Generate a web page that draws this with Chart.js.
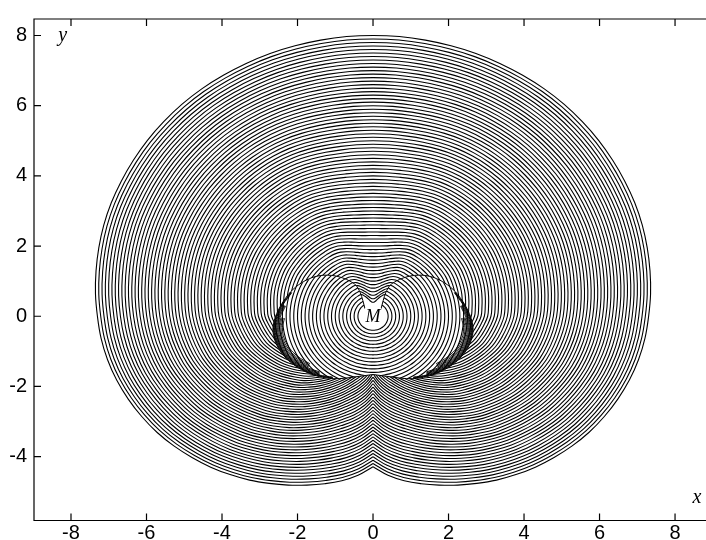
<!DOCTYPE html>
<html>
<head>
<meta charset="utf-8">
<script src="https://cdn.jsdelivr.net/npm/chart.js@4.4.0/dist/chart.umd.min.js"></script>
<style>
  html, body { margin: 0; padding: 0; background: #fff; }
  #wrap { width: 706px; height: 540px; }
</style>
</head>
<body>
<div id="wrap"><canvas id="chart" width="706" height="540"></canvas></div>
<script>
// ===============================
// DATA
// ===============================
const xTicks = [-8, -6, -4, -2, 0, 2, 4, 6, 8];
const yTicks = [-4, -2, 0, 2, 4, 6, 8];

// fronts, labelled by where they cross the axis above M
const levels = [
  0.4, 0.5, 0.6, 0.7, 0.8, 0.9, 1.0, 1.1, 1.2, 1.3, 1.4, 1.5, 1.6, 1.7, 1.8, 1.9,
  2.0, 2.1, 2.2, 2.3, 2.4, 2.5, 2.6, 2.7, 2.8, 2.9, 3.0, 3.1, 3.2, 3.3, 3.4, 3.5,
  3.6, 3.7, 3.8, 3.9, 4.0, 4.1, 4.2, 4.3, 4.4, 4.5, 4.6, 4.7, 4.8, 4.9, 5.0, 5.1,
  5.2, 5.3, 5.4, 5.5, 5.6, 5.7, 5.8, 5.9, 6.0, 6.1, 6.2, 6.3, 6.4, 6.5, 6.6, 6.7,
  6.8, 6.9, 7.0, 7.1, 7.2, 7.3, 7.4, 7.5, 7.6, 7.7, 7.8, 7.9, 8.0,
];
const innerLevel = 0.3;
const outerLevel = 8.0;

// angle from straight up, right half (left half is the mirror)
const angleDeg = [
  0, 5, 10, 15, 20, 25, 30, 35, 40, 45, 50, 55, 60, 65, 70, 75, 80, 85, 90,
  95, 100, 105, 110, 115, 120, 125, 130, 135, 140, 145, 150, 155, 160, 165, 170, 175, 180,
];
// distance from M of the outermost front
const outerR = [
  8.00, 8.00, 7.99, 7.98, 7.97, 7.95, 7.93, 7.91, 7.88, 7.84, 7.80, 7.75, 7.70,
  7.65, 7.59, 7.52, 7.45, 7.38, 7.30, 7.23, 7.14, 7.03, 6.90, 6.76, 6.61, 6.44,
  6.26, 6.08, 5.89, 5.70, 5.50, 5.31, 5.12, 4.94, 4.76, 4.55, 4.29,
];
// distance from M of the innermost front (hidden inside the heart where small)
const innerR = [
  0.30, 0.31, 0.35, 0.42, 0.50, 0.58, 0.62, 0.63, 0.64, 0.65, 0.66, 0.67, 0.68,
  0.67, 0.66, 0.65, 0.63, 0.61, 0.60, 0.50, 0.40, 0.30, 0.14, -0.03, -0.20, -0.40,
  -0.60, -0.80, -1.07, -1.33, -1.60, -1.87, -2.13, -2.40, -2.60, -2.80, -3.00,
];

// heart-shaped region round M, right half
const heartX = [
  0.21, 0.27, 0.34, 0.45, 0.61, 0.80, 1.00, 1.20, 1.40, 1.62, 1.90, 2.18, 2.42,
  2.58, 2.65, 2.62, 2.50, 2.30, 2.05, 1.75, 1.42, 1.06, 0.70, 0.35, 0.00,
];
const heartY = [
  0.20, 0.45, 0.68, 0.88, 1.00, 1.09, 1.15, 1.17, 1.16, 1.10, 0.95, 0.70, 0.35,
  0.00, -0.33, -0.62, -0.92, -1.20, -1.42, -1.60, -1.72, -1.78, -1.76, -1.71, -1.66,
];

// circles round M inside the heart
const ringR = [
  0.4, 0.5, 0.6, 0.7, 0.8, 0.9, 1.0, 1.1, 1.2, 1.3, 1.4, 1.5,
  1.6, 1.7, 1.8, 1.9, 2.0, 2.1, 2.2, 2.3, 2.4, 2.5, 2.6, 2.7,
];

// folded fronts packed along the outer rim of each lobe
const foldScale = [
  0.995, 0.988, 0.979, 0.968, 0.955, 0.94, 0.923, 0.904, 0.883, 0.86, 0.835, 0.808,
];
const foldFrom = 11;
const foldTo = 21;
const lobeCenter = { x: 1.35, y: -0.3 };

// ===============================
// CURVES
// ===============================
const toRad = (d) => (d * Math.PI) / 180;

function polarPoint(side, i, r) {
  const a = toRad(angleDeg[i]);
  const rr = Math.max(r, 0.02);
  return { x: side * rr * Math.sin(a), y: rr * Math.cos(a) };
}

function polarCurve(radiusAt) {
  const pts = [];
  for (let i = angleDeg.length - 1; i >= 0; i--) pts.push(polarPoint(-1, i, radiusAt(i)));
  for (let i = 1; i < angleDeg.length; i++) pts.push(polarPoint(1, i, radiusAt(i)));
  return pts;
}

const lineStyle = {
  showLine: true,
  pointRadius: 0,
  borderColor: "#000",
  borderWidth: 1.1,
  tension: 0.4,
  fill: false,
};

const datasets = [];

levels.forEach((level) => {
  const t = (level - innerLevel) / (outerLevel - innerLevel);
  datasets.push({
    ...lineStyle,
    region: "outside",
    data: polarCurve((i) => innerR[i] + (outerR[i] - innerR[i]) * t),
  });
});

ringR.forEach((r) => {
  datasets.push({ ...lineStyle, region: "inside", data: polarCurve(() => r) });
});

[-1, 1].forEach((side) => {
  foldScale.forEach((f, k) => {
    const pts = [];
    // deeper folds are shorter, so the dark band tapers at both ends
    const cut = Math.floor(k / 4);
    for (let i = foldFrom + cut; i <= foldTo - cut; i++) {
      pts.push({
        x: side * (lobeCenter.x + (heartX[i] - lobeCenter.x) * f),
        y: lobeCenter.y + (heartY[i] - lobeCenter.y) * f,
      });
    }
    datasets.push({ ...lineStyle, region: "inside", borderWidth: 0.9, tension: 0.3, data: pts });
  });
  datasets.push({
    ...lineStyle,
    region: "none",
    tension: 0.3,
    borderWidth: 1,
    data: heartX.map((x, i) => ({ x: side * x, y: heartY[i] })),
  });
});

// ===============================
// PLUGINS
// ===============================
function heartPath(ctx, chart) {
  const sx = chart.scales.x;
  const sy = chart.scales.y;
  const n = heartX.length;
  for (let i = 0; i < n; i++) {
    const px = sx.getPixelForValue(heartX[i]);
    const py = sy.getPixelForValue(heartY[i]);
    if (i === 0) ctx.moveTo(px, py);
    else ctx.lineTo(px, py);
  }
  for (let i = n - 1; i >= 0; i--) {
    ctx.lineTo(sx.getPixelForValue(-heartX[i]), sy.getPixelForValue(heartY[i]));
  }
  ctx.closePath();
}

const regionClip = {
  id: "regionClip",
  beforeDatasetDraw(chart, args) {
    const region = chart.data.datasets[args.index].region;
    const ctx = chart.ctx;
    const a = chart.chartArea;
    ctx.save();
    if (region === "outside") {
      ctx.beginPath();
      ctx.rect(a.left, a.top, a.right - a.left, a.bottom - a.top);
      heartPath(ctx, chart);
      ctx.clip("evenodd");
    } else if (region === "inside") {
      ctx.beginPath();
      heartPath(ctx, chart);
      ctx.clip();
    }
  },
  afterDatasetDraw(chart) {
    chart.ctx.restore();
  },
};

const frame = {
  id: "frame",
  afterDatasetsDraw(chart) {
    const ctx = chart.ctx;
    const a = chart.chartArea;
    const sx = chart.scales.x;
    const sy = chart.scales.y;
    ctx.save();

    // white disc with M
    const mx = sx.getPixelForValue(0);
    const my = sy.getPixelForValue(0);
    const mr = sx.getPixelForValue(0.3) - mx;
    ctx.fillStyle = "#fff";
    ctx.beginPath();
    ctx.arc(mx, my, mr, 0, Math.PI * 2);
    ctx.fill();
    ctx.fillStyle = "#000";
    ctx.font = 'italic 18px "Liberation Serif", "DejaVu Serif", serif';
    ctx.textAlign = "center";
    ctx.textBaseline = "middle";
    ctx.fillText("M", mx, my + 1);

    // frame + inward ticks
    ctx.strokeStyle = "#000";
    ctx.lineWidth = 1.2;
    ctx.beginPath();
    ctx.moveTo(a.right + 2, a.top);
    ctx.lineTo(a.left, a.top);
    ctx.lineTo(a.left, a.bottom);
    ctx.lineTo(a.right + 2, a.bottom);
    xTicks.forEach((v) => {
      const px = sx.getPixelForValue(v);
      ctx.moveTo(px, a.bottom);
      ctx.lineTo(px, a.bottom - 7);
      ctx.moveTo(px, a.top);
      ctx.lineTo(px, a.top + 7);
    });
    yTicks.forEach((v) => {
      const py = sy.getPixelForValue(v);
      ctx.moveTo(a.left, py);
      ctx.lineTo(a.left + 7, py);
    });
    ctx.stroke();

    // axis letters
    ctx.font = 'italic 20px "Liberation Serif", "DejaVu Serif", serif';
    ctx.fillText("y", sx.getPixelForValue(-8.22), sy.getPixelForValue(8.0));
    ctx.fillText("x", sx.getPixelForValue(8.58), sy.getPixelForValue(-5.18));
    ctx.restore();
  },
};

// ===============================
// CHART
// ===============================
const tickFont = { family: '"Liberation Sans", Arial, sans-serif', size: 20 };

new Chart(document.getElementById("chart"), {
  type: "scatter",
  data: { datasets },
  options: {
    responsive: false,
    animation: false,
    events: [],
    layout: { padding: { top: 7, right: 0, left: 0, bottom: 0 } },
    scales: {
      x: {
        type: "linear",
        min: -8.98,
        max: 8.82,
        afterBuildTicks: (scale) => {
          scale.ticks = xTicks.map((v) => ({ value: v }));
        },
        afterFit: (scale) => {
          scale.height = 19.5;
        },
        grid: { display: false, drawTicks: false },
        border: { display: false },
        ticks: { color: "#000", font: tickFont, padding: 1, maxRotation: 0 },
      },
      y: {
        type: "linear",
        min: -5.82,
        max: 8.47,
        afterBuildTicks: (scale) => {
          scale.ticks = yTicks.map((v) => ({ value: v }));
        },
        afterFit: (scale) => {
          scale.width = 34;
        },
        grid: { display: false, drawTicks: false },
        border: { display: false },
        ticks: { color: "#000", font: tickFont, padding: 7 },
      },
    },
    plugins: {
      legend: { display: false },
      tooltip: { enabled: false },
    },
  },
  plugins: [regionClip, frame],
});
</script>
</body>
</html>
